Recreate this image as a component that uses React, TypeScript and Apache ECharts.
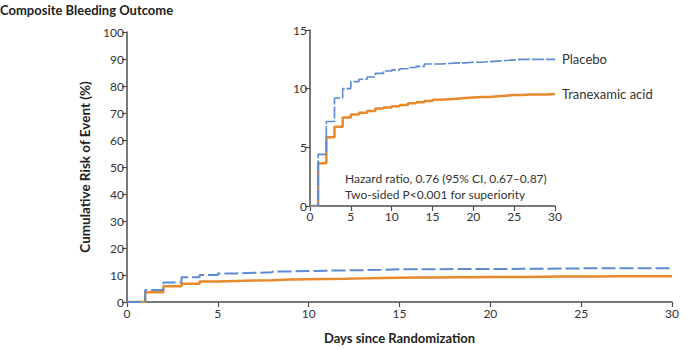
import React, { useEffect, useRef } from "react";
import * as echarts from "echarts";

const days = [0, 1, 2, 3, 4, 5, 6, 7, 8, 9, 10, 11, 12, 13, 14, 15, 16, 17, 18, 19, 20, 21, 22, 23, 24, 25, 26, 27, 28, 29, 30];
const placebo = [0, 4.4, 7.2, 9.2, 10.0, 10.6, 10.8, 11.0, 11.3, 11.5, 11.6, 11.7, 11.8, 11.9, 12.1, 12.1, 12.15, 12.2, 12.2, 12.25, 12.25, 12.3, 12.35, 12.4, 12.45, 12.5, 12.5, 12.5, 12.5, 12.5, 12.5];
const tranexamic = [0, 3.65, 5.85, 6.75, 7.55, 7.8, 7.95, 8.1, 8.3, 8.4, 8.5, 8.6, 8.75, 8.85, 8.95, 9.05, 9.1, 9.15, 9.2, 9.25, 9.3, 9.3, 9.35, 9.4, 9.45, 9.45, 9.5, 9.5, 9.5, 9.55, 9.55];
const seriesNames = ["Placebo", "Tranexamic acid"];
const mainYTicks = [0, 10, 20, 30, 40, 50, 60, 70, 80, 90, 100];
const insetYTicks = [0, 5, 10, 15];
const xTicks = [0, 5, 10, 15, 20, 25, 30];

const FONT = "Lato";
const BLUE = "#5b8bd3";
const ORANGE = "#e8892b";
const AXIS = "#4d4d4d";
const TEXT = "#333";

export default function App() {
  const ref = useRef<HTMLDivElement>(null);
  useEffect(() => {
    if (!ref.current) return;
    const chart = echarts.init(ref.current, undefined, { renderer: "svg" });
    const pts = (ys: number[]) => days.map((d, i) => [d, ys[i]]);
    const axisCommon = {
      axisLine: { show: true, lineStyle: { color: AXIS, width: 1.5 } },
      axisTick: { show: true, length: 5, lineStyle: { color: AXIS, width: 1.2 } },
      axisLabel: { color: TEXT, fontFamily: FONT, fontSize: 12, margin: 3 },
      splitLine: { show: false },
    };
    chart.setOption({
      animation: false,
      textStyle: { fontFamily: FONT },
      grid: [
        { left: 127, right: 20, top: 32, bottom: 48 },
        { left: 310, right: 137, top: 30, bottom: 144 },
      ],
      xAxis: [
        {
          type: "value", gridIndex: 0, min: 0, max: 30, interval: 5,
          ...axisCommon,
          axisLabel: { ...axisCommon.axisLabel, margin: 5 },
          name: "Days since Randomization",
          nameLocation: "middle", nameGap: 29,
          nameTextStyle: { color: "#222", fontFamily: FONT, fontSize: 13, fontWeight: "bold" },
        },
        {
          type: "value", gridIndex: 1, min: 0, max: 30, interval: 5,
          ...axisCommon,
          axisLabel: { ...axisCommon.axisLabel, margin: 4 },
        },
      ],
      yAxis: [
        {
          type: "value", gridIndex: 0, min: 0, max: 100, interval: 10,
          ...axisCommon,
          name: "Cumulative Risk of Event (%)",
          nameLocation: "middle", nameGap: 34,
          nameTextStyle: { color: "#222", fontFamily: FONT, fontSize: 13.5, fontWeight: "bold" },
        },
        {
          type: "value", gridIndex: 1, min: 0, max: 15, interval: 5,
          ...axisCommon,
        },
      ],
      series: [
        {
          name: seriesNames[0], type: "line", step: "end", xAxisIndex: 0, yAxisIndex: 0,
          data: pts(placebo), showSymbol: false, z: 3,
          lineStyle: { color: BLUE, width: 2, type: [14, 4] },
        },
        {
          name: seriesNames[1], type: "line", step: "end", xAxisIndex: 0, yAxisIndex: 0,
          data: pts(tranexamic), showSymbol: false, z: 2,
          lineStyle: { color: ORANGE, width: 2.5 },
        },
        {
          name: seriesNames[0], type: "line", step: "end", xAxisIndex: 1, yAxisIndex: 1,
          data: pts(placebo), showSymbol: false, z: 3,
          lineStyle: { color: BLUE, width: 1.6, type: [12, 2] },
          endLabel: { show: true, formatter: seriesNames[0], color: TEXT, fontFamily: FONT, fontSize: 13, distance: 7 },
        },
        {
          name: seriesNames[1], type: "line", step: "end", xAxisIndex: 1, yAxisIndex: 1,
          data: pts(tranexamic), showSymbol: false, z: 2,
          lineStyle: { color: ORANGE, width: 2.5 },
          endLabel: { show: true, formatter: seriesNames[1], color: TEXT, fontFamily: FONT, fontSize: 13, distance: 7 },
        },
      ],
      graphic: [
        {
          type: "text", left: 0, top: 3,
          style: { text: "Composite Bleeding Outcome", fontFamily: FONT, fontSize: 13, fontWeight: "bold", fill: "#222" },
        },
        {
          type: "text", left: 345, top: 170,
          style: {
            text: "Hazard ratio, 0.76 (95% CI, 0.67–0.87)\nTwo-sided P<0.001 for superiority",
            fontFamily: FONT, fontSize: 12, lineHeight: 16, fill: TEXT,
          },
        },
      ],
    });
    return () => chart.dispose();
  }, []);
  return <div ref={ref} style={{ width: 692, height: 350, position: "absolute", left: 0, top: 0 }} />;
}
